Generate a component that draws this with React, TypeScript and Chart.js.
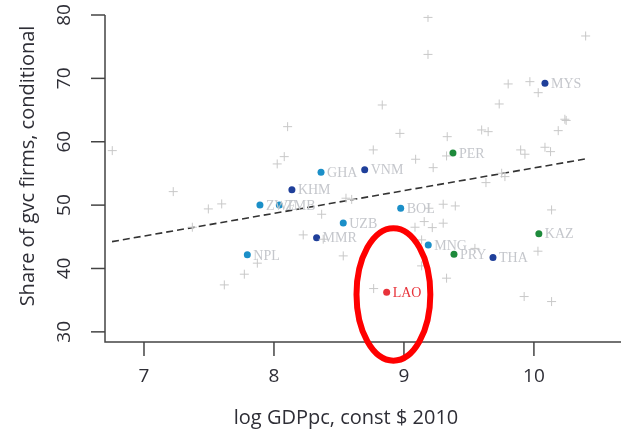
import { useEffect, useRef } from "react";
import { Chart, registerables } from "chart.js";

Chart.register(...registerables);

// Countries without a highlight: log GDP per capita vs share of GVC firms
const otherGdp = [
  6.756, 7.225, 7.495, 7.598, 7.372, 7.772, 7.618, 7.872, 8.105, 8.079,
  8.025, 8.367, 8.225, 8.379, 8.554, 8.598, 8.533, 8.767, 8.833, 8.969,
  8.764, 9.09, 9.185, 9.185, 9.333, 9.328, 9.225, 9.598, 9.648, 9.733,
  9.802, 9.969, 10.033, 10.398, 10.238, 10.248, 10.187, 9.898, 9.931, 10.085,
  10.128, 9.752, 9.777, 9.631, 9.302, 9.395, 9.085, 9.156, 9.218, 9.302,
  9.136, 9.136, 9.328, 10.136, 10.031, 9.925, 10.136, 9.192, 9.546,
];
const otherShare = [
  58.6, 52.13, 49.4, 50.19, 46.51, 39.1, 37.41, 40.84, 62.38, 57.65,
  56.5, 48.56, 45.3, 44.62, 51.09, 50.9, 41.99, 36.83, 65.8, 61.32,
  58.71, 57.24, 79.62, 73.78, 60.8, 57.76, 55.91, 61.86, 61.59, 65.96,
  69.12, 69.48, 67.74, 76.69, 63.55, 63.36, 61.75, 58.71, 58.03, 59.13,
  58.44, 55.03, 54.5, 53.55, 50.14, 49.87, 46.51, 47.4, 46.45, 47.15,
  44.51, 40.41, 38.47, 49.24, 42.73, 35.57, 34.78, 49.51, 43.17,
];

// Highlighted countries
const countryCodes = [
  "MYS", "PER", "GHA", "VNM", "KHM", "ZWE", "ZMB", "NPL",
  "UZB", "MMR", "LAO", "BOL", "MNG", "PRY", "THA", "KAZ",
];
const countryGdp = [
  10.085, 9.377, 8.362, 8.698, 8.138, 7.892, 8.041, 7.795,
  8.533, 8.328, 8.867, 8.975, 9.187, 9.385, 9.685, 10.038,
];
const countryShare = [
  69.23, 58.23, 55.19, 55.6, 52.44, 50.03, 50.03, 42.15,
  47.19, 44.87, 36.26, 49.51, 43.72, 42.26, 41.72, 45.5,
];
const countryGroup = [
  "east", "latam", "other", "east", "east", "other", "other", "other",
  "other", "east", "focus", "other", "other", "latam", "east", "latam",
];

// Linear fit end points
const fitGdp = [6.754, 10.398];
const fitShare = [44.24, 57.29];

const xTicks = [7, 8, 9, 10];
const yTicks = [30, 40, 50, 60, 70, 80];

// Highlight ring around LAO (centre and half-axes in data units)
const ringCenter = [8.919, 35.91];
const ringRadius = [0.284, 10.45];

const groupColor: Record<string, string> = {
  east: "#1f3f9a",
  other: "#1b8fc8",
  latam: "#1d8a3b",
  focus: "#e8333b",
};

const AXIS_COLOR = "#444444";
const TEXT_COLOR = "#2e2e36";
const TICK_FONT = '19px "Open Sans"';
const TITLE_FONT = '20px "Open Sans"';
const LABEL_FONT = '14px "Liberation Serif"';

const axesPlugin = {
  id: "baseAxes",
  afterDraw(chart: any) {
    const { ctx, chartArea, scales } = chart;
    const xs = scales.x;
    const ys = scales.y;
    const tickLen = 14;

    ctx.save();
    // country labels
    ctx.font = LABEL_FONT;
    ctx.textAlign = "left";
    ctx.textBaseline = "middle";
    countryCodes.forEach((code, i) => {
      const px = xs.getPixelForValue(countryGdp[i]);
      const py = ys.getPixelForValue(countryShare[i]);
      ctx.fillStyle = countryGroup[i] === "focus" ? "#e8333b" : "#c5c7cc";
      ctx.fillText(code, px + 6, py + 1);
    });

    // L-shaped axes
    ctx.strokeStyle = AXIS_COLOR;
    ctx.lineWidth = 1.5;
    ctx.beginPath();
    ctx.moveTo(chartArea.left, ys.getPixelForValue(80));
    ctx.lineTo(chartArea.left, chartArea.bottom);
    ctx.lineTo(chartArea.right, chartArea.bottom);
    ctx.stroke();

    ctx.fillStyle = TEXT_COLOR;
    ctx.font = TICK_FONT;
    // x ticks
    ctx.textAlign = "center";
    ctx.textBaseline = "middle";
    xTicks.forEach((v) => {
      const px = xs.getPixelForValue(v);
      ctx.beginPath();
      ctx.moveTo(px, chartArea.bottom);
      ctx.lineTo(px, chartArea.bottom + tickLen);
      ctx.stroke();
      ctx.fillText(String(v), px, chartArea.bottom + 35);
    });
    // y ticks (labels rotated)
    yTicks.forEach((v) => {
      const py = ys.getPixelForValue(v);
      ctx.beginPath();
      ctx.moveTo(chartArea.left, py);
      ctx.lineTo(chartArea.left - tickLen, py);
      ctx.stroke();
      ctx.save();
      ctx.translate(chartArea.left - 40, py);
      ctx.rotate(-Math.PI / 2);
      ctx.fillText(String(v), 0, 0);
      ctx.restore();
    });

    // axis titles
    ctx.font = TITLE_FONT;
    ctx.fillText("log GDPpc, const $ 2010", 346, 418);
    ctx.save();
    ctx.translate(28, 166);
    ctx.rotate(-Math.PI / 2);
    ctx.fillText("Share of gvc firms, conditional", 0, 0);
    ctx.restore();

    // highlight ring
    const cx = xs.getPixelForValue(ringCenter[0]);
    const cy = ys.getPixelForValue(ringCenter[1]);
    const rx = Math.abs(xs.getPixelForValue(ringCenter[0] + ringRadius[0]) - cx);
    const ry = Math.abs(ys.getPixelForValue(ringCenter[1] + ringRadius[1]) - cy);
    ctx.strokeStyle = "#ff0000";
    ctx.lineWidth = 6;
    ctx.beginPath();
    ctx.ellipse(cx, cy, rx, ry, 0, 0, Math.PI * 2);
    ctx.stroke();
    ctx.restore();
  },
};

export default function App() {
  const canvasRef = useRef<HTMLCanvasElement | null>(null);

  useEffect(() => {
    const canvas = canvasRef.current;
    if (!canvas) return;
    const chart = new Chart(canvas, {
      type: "scatter",
      data: {
        datasets: [
          {
            data: otherGdp.map((x, i) => ({ x, y: otherShare[i] })),
            pointStyle: "cross",
            pointRadius: 4.5,
            pointBorderColor: "#c8c8c8",
            pointBorderWidth: 1,
            pointBackgroundColor: "#c8c8c8",
          },
          {
            type: "line",
            data: fitGdp.map((x, i) => ({ x, y: fitShare[i] })),
            borderColor: "#333333",
            borderWidth: 1.6,
            borderDash: [7, 4],
            pointRadius: 0,
            fill: false,
          },
          {
            data: countryGdp.map((x, i) => ({ x, y: countryShare[i] })),
            pointStyle: "circle",
            pointRadius: 3.5,
            pointBorderWidth: 0,
            pointBackgroundColor: countryGroup.map((g) => groupColor[g]),
            pointBorderColor: countryGroup.map((g) => groupColor[g]),
          },
        ],
      } as any,
      options: {
        responsive: false,
        animation: false,
        events: [],
        layout: {
          autoPadding: false,
          padding: { left: 105, right: 0, top: 15, bottom: 88 },
        },
        plugins: {
          legend: { display: false },
          tooltip: { enabled: false },
        },
        scales: {
          x: { type: "linear", min: 6.7, max: 10.67, display: false },
          y: { type: "linear", min: 28.4, max: 80, display: false },
        },
      },
      plugins: [axesPlugin],
    });
    return () => chart.destroy();
  }, []);

  return (
    <div style={{ position: "absolute", left: 0, top: 0, width: 621, height: 430, background: "#ffffff" }}>
      <canvas ref={canvasRef} width={621} height={430} style={{ display: "block" }} />
    </div>
  );
}
